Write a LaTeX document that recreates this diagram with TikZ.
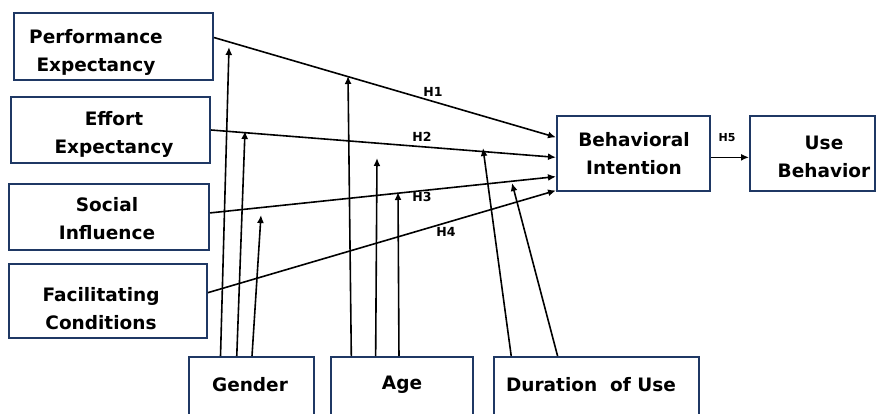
\documentclass[tikz,border=0pt]{standalone}
\usepackage{fontspec}
\setmainfont{DejaVu Sans}
\usetikzlibrary{arrows.meta,calc}
\definecolor{navy}{RGB}{31,56,100}
\begin{document}
\begin{tikzpicture}[x=1pt,y=-1pt,
 box/.style={draw=navy,line width=2pt,fill=white,inner sep=0pt},
 txt/.style={font=\bfseries\fontsize{18.5}{28}\selectfont,align=center,inner sep=0pt},
 hlab/.style={font=\bfseries\fontsize{12.5}{14}\selectfont,inner sep=0pt},
 hsmall/.style={font=\bfseries\fontsize{11}{13}\selectfont,inner sep=0pt},
 conn/.style={line width=1.6pt,-{Latex[length=8pt,width=7pt]}}]
\useasboundingbox (0,0) rectangle (877,414);
% boxes
\node[box,minimum width=199pt,minimum height=67pt] (pe) at (113.5,46.5) {};
\node[box,minimum width=199pt,minimum height=66pt] (ee) at (110.5,130) {};
\node[box,minimum width=200pt,minimum height=66pt] (si) at (109,217) {};
\node[box,minimum width=198pt,minimum height=74pt] (fc) at (108,301) {};
\node[box,minimum width=125pt,minimum height=73pt] (gen) at (251.5,393.5) {};
\node[box,minimum width=142pt,minimum height=73pt] (age) at (402,393.5) {};
\node[box,minimum width=205pt,minimum height=73pt] (dur) at (596.5,393.5) {};
\node[box,minimum width=153pt,minimum height=75pt] (bi) at (633.5,153.5) {};
\node[box,minimum width=125pt,minimum height=75pt] (ub) at (812.5,153.5) {};
% texts
\node[txt] (pet) at (96,52.2) {Performance\\Expectancy};
\node[txt] (eet) at (114,134.2) {Effort\\Expectancy};
\node[txt] (sit) at (107,219) {Social\\Influence};
\node[txt] (fct) at (101,309) {Facilitating\\Conditions};
\node[txt] (gent) at (250,385) {Gender};
\node[txt] (aget) at (402,384.5) {Age};
\node[txt] (durt) at (591,385) {Duration~ of Use};
\node[txt] (bit) at (634,154) {Behavioral\\Intention};
\node[txt] (ubt) at (824,157) {Use\\Behavior};
% main paths
\draw[conn] ($(pe.north east)!0.37!(pe.south east)$) -- ($(bi.north west)!0.29!(bi.south west)$);
\draw[conn] ($(ee.north east)!0.5!(ee.south east)$) -- ($(bi.north west)!0.55!(bi.south west)$);
\draw[conn] ($(si.north east)!0.44!(si.south east)$) -- ($(bi.north west)!0.8!(bi.south west)$);
\draw[conn] ($(fc.north east)!0.39!(fc.south east)$) -- ($(bi.north west)!0.98!(bi.south west)$);
\draw[conn] ($(bi.north east)!0.55!(bi.south east)$) -- ($(ub.north west)!0.55!(ub.south west)$);
% moderator tips
\coordinate (g1) at (229,47);
\coordinate (g2) at (245,131);
\coordinate (g3) at (261,215);
\coordinate (a1) at (348,76);
\coordinate (a2) at (377,158);
\coordinate (a3) at (398,192);
\coordinate (d1) at (483,148);
\coordinate (d2) at (512,183);
\draw[conn] ($(gen.north west)!0.256!(gen.north east)$) -- (g1);
\draw[conn] ($(gen.north west)!0.384!(gen.north east)$) -- (g2);
\draw[conn] ($(gen.north west)!0.504!(gen.north east)$) -- (g3);
\draw[conn] ($(age.north west)!0.148!(age.north east)$) -- (a1);
\draw[conn] ($(age.north west)!0.317!(age.north east)$) -- (a2);
\draw[conn] ($(age.north west)!0.479!(age.north east)$) -- (a3);
\draw[conn] ($(dur.north west)!0.088!(dur.north east)$) -- (d1);
\draw[conn] ($(dur.north west)!0.312!(dur.north east)$) -- (d2);
% labels
\node[hlab] (h1) at (433,92) {H1};
\node[hlab] (h2) at (422,137) {H2};
\node[hlab] (h3) at (422,197) {H3};
\node[hlab] (h4) at (446,232) {H4};
\node[hsmall] (h5) at (727,138) {H5};
\end{tikzpicture}
\end{document}
